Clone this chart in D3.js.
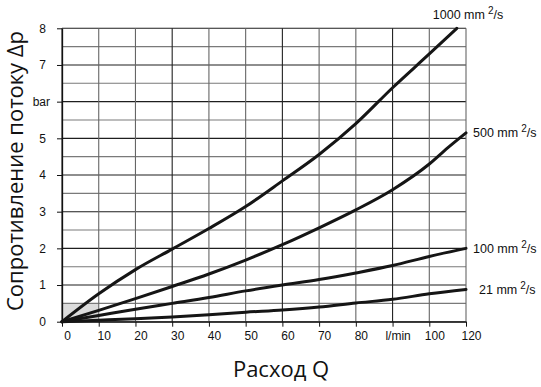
<!DOCTYPE html>
<html>
<head>
<meta charset="utf-8">
<script src="https://cdn.jsdelivr.net/npm/d3@7"></script>
<style>
  body { margin: 0; background: #fff; }
  .tick text { font-family: "Liberation Sans", Arial, sans-serif; font-size: 12px; fill: #111; }
  .title { font-family: "Open Sans", "Noto Sans", sans-serif; font-size: 22px; fill: #111; }
  .clabel { font-family: "Liberation Sans", Arial, sans-serif; font-size: 12.5px; fill: #111; }
</style>
</head>
<body>
<svg width="541" height="387"></svg>
<script>
// Расход Q (l/min) по каждой кривой
const q1000 = [0, 10, 20, 30, 40, 50, 60, 70, 80, 90, 100, 115];
const dp1000 = [0, 0.76, 1.42, 1.98, 2.54, 3.14, 3.84, 4.56, 5.40, 6.38, 7.30, 8.0];

const qStd = [0, 10, 20, 30, 40, 50, 60, 70, 80, 90, 100, 110, 120];
const dp500 = [0, 0.31, 0.63, 0.96, 1.30, 1.68, 2.10, 2.56, 3.05, 3.60, 4.30, 4.74, 5.15];

const qLow = [0, 10, 20, 30, 40, 50, 60, 70, 80, 90, 100, 120];
const dp100 = [0, 0.17, 0.34, 0.50, 0.66, 0.84, 1.00, 1.15, 1.33, 1.53, 1.78, 2.0];
const dp21 = [0, 0.04, 0.08, 0.13, 0.19, 0.26, 0.32, 0.40, 0.51, 0.61, 0.76, 0.88];

const seriesNames = ["1000", "500", "100", "21"];

// подписи осей
const xTicks = [0, 10, 20, 30, 40, 50, 60, 70, 80, 90, 100, 120];
const xTickLabels = ["0", "10", "20", "30", "40", "50", "60", "70", "80", "l/min", "100", "120"];
const yTicks = [0, 1, 2, 3, 4, 5, 6, 7, 8];
const yTickLabels = ["0", "1", "2", "3", "4", "5", "bar", "7", "8"];
const yGrid = d3.range(0, 8.01, 0.5);

const svg = d3.select("svg");

// шкала X неравномерная: последний интервал 100-120 такой же, как 10 единиц
const x = d3.scaleLinear().domain([0, 100, 120]).range([62, 429.3, 466]);
const y = d3.scaleLinear().domain([0, 8]).range([321.7, 28.3]);

// серая область в углу
svg.append("rect")
    .attr("x", x(0)).attr("y", y(0.5))
    .attr("width", x(10) - x(0)).attr("height", y(0) - y(0.5))
    .attr("fill", "#dcdcdc");

// горизонтальная сетка
svg.append("g").selectAll("line")
    .data(yGrid)
    .enter().append("line")
    .attr("x1", x(0)).attr("x2", x(120))
    .attr("y1", d => y(d)).attr("y2", d => y(d))
    .attr("stroke", d => d % 1 === 0 ? "#1e1e1e" : "#7a7a7a")
    .attr("stroke-width", 1.1);

// вертикальная сетка
svg.append("g").selectAll("line")
    .data(xTicks)
    .enter().append("line")
    .attr("x1", d => x(d)).attr("x2", d => x(d))
    .attr("y1", y(0)).attr("y2", y(8))
    .attr("stroke", (d, i) => i % 3 === 0 ? "#222" : "#666")
    .attr("stroke-width", 1.1);

// оси
const yAxis = d3.axisLeft(y)
    .tickValues(yTicks)
    .tickFormat((d, i) => yTickLabels[i])
    .tickSize(5).tickSizeOuter(0).tickPadding(11);
const gy = svg.append("g").attr("transform", `translate(${x(0)},0)`).call(yAxis);
gy.select(".domain").attr("stroke", "#111").attr("stroke-width", 1.3);
gy.selectAll(".tick line").attr("stroke", "#111");
gy.selectAll(".tick text").filter((d, i) => yTickLabels[i] === "bar").attr("dx", 4);

const xAxis = d3.axisBottom(x)
    .tickValues(xTicks)
    .tickFormat((d, i) => xTickLabels[i])
    .tickSize(5).tickSizeOuter(0).tickPadding(5);
const gx = svg.append("g").attr("transform", `translate(0,${y(0)})`).call(xAxis);
gx.select(".domain").attr("stroke", "#111").attr("stroke-width", 1.3);
gx.selectAll(".tick line").attr("stroke", "#111");
gx.selectAll(".tick text").attr("dx", 5);

// кривые
const series = [
    { name: seriesNames[0], q: q1000, dp: dp1000 },
    { name: seriesNames[1], q: qStd, dp: dp500 },
    { name: seriesNames[2], q: qLow, dp: dp100 },
    { name: seriesNames[3], q: qLow, dp: dp21 }
];

const line = d3.line()
    .x(d => x(d[0]))
    .y(d => y(d[1]))
    .curve(d3.curveMonotoneX);

svg.append("g").selectAll("path")
    .data(series)
    .enter().append("path")
    .attr("d", s => line(s.q.map((v, i) => [v, s.dp[i]])))
    .attr("fill", "none")
    .attr("stroke", "#151515")
    .attr("stroke-width", 3)
    .attr("stroke-linecap", "round");

// подписи кривых (mm²/s)
const lbl = svg.append("g").selectAll("text")
    .data(series)
    .enter().append("text")
    .attr("class", "clabel")
    .attr("x", s => {
        const ex = x(s.q[s.q.length - 1]);
        if (s.name === "1000") return ex - 24;
        if (s.name === "21") return ex + 13;
        return ex + 7;
    })
    .attr("y", s => {
        const ey = y(s.dp[s.dp.length - 1]);
        return s.name === "1000" ? ey - 9 : ey + 4.5;
    });
lbl.append("tspan").text(s => s.name + " mm");
lbl.append("tspan").attr("dx", 3).attr("dy", -5).attr("font-size", 10).text("2");
lbl.append("tspan").attr("dy", 5).text("/s");

// названия осей
svg.append("text")
    .attr("class", "title")
    .attr("text-anchor", "middle")
    .attr("transform", "translate(23,171) rotate(-90)")
    .text("Сопротивление потоку Δp");

svg.append("text")
    .attr("class", "title")
    .attr("text-anchor", "middle")
    .attr("x", 281)
    .attr("y", 377)
    .text("Расход Q");
</script>
</body>
</html>
